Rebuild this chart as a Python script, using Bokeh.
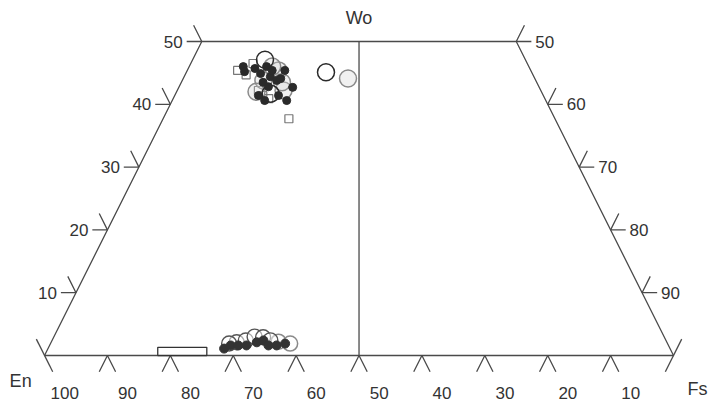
import numpy as np
from bokeh.plotting import figure
from bokeh.models import Range1d
from bokeh.embed import file_html
from bokeh.resources import INLINE
from bokeh.core.properties import value

# ---- data (Wo and Fs, mol %) ----
sq_wo = [45.4, 44.7, 46.5, 41.4, 40.9, 37.7, 42.2]
sq_fs = [8.0, 9.7, 9.9, 14.0, 15.2, 20.0, 12.9]

up_circ_wo = [47.1, 45.1, 41.7]
up_circ_fs = [11.5, 22.2, 15.1]
up_gcirc_wo = [45.4, 42.2, 44.1, 43.8, 42.0, 46.0, 43.5]
up_gcirc_fs = [14.5, 16.9, 26.2, 12.9, 12.7, 13.2, 16.0]

up_dot_wo = [46.0, 45.2, 45.7, 44.9, 46.0, 44.4, 43.5, 43.8, 42.8, 44.1, 45.4, 45.4, 41.4, 40.6, 40.6, 42.7, 41.4]
up_dot_fs = [8.6, 9.2, 10.6, 11.9, 12.3, 13.7, 13.0, 15.0, 14.2, 15.5, 13.5, 15.5, 16.5, 14.7, 18.2, 18.1, 13.3]

lo_circ_wo = [2.1, 2.4, 3.0, 2.9, 2.4, 1.9]
lo_circ_fs = [29.5, 30.8, 31.9, 33.3, 34.7, 28.4]
lo_gcirc_wo = [2.2, 1.9]
lo_gcirc_fs = [36.1, 38.1]

lo_dot_wo = [1.1, 1.6, 1.6, 1.6, 2.1, 2.4, 1.6, 1.6, 1.9]
lo_dot_fs = [28.0, 28.8, 30.0, 31.3, 32.7, 33.6, 34.8, 36.1, 37.3]

box_fs = [18.0, 25.8]
box_wo = [0.0, 1.3]

bottom_ticks = [10, 20, 30, 40, 50, 60, 70, 80, 90]          # Fs position on base
bottom_labels = ["100", "90", "80", "70", "60", "50", "40", "30", "20", "10"]
bottom_label_pos = [0, 10, 20, 30, 40, 50, 60, 70, 80, 90]
side_ticks = [10, 20, 30, 40, 50]                            # Wo
left_labels = ["10", "20", "30", "40", "50"]
right_labels = ["90", "80", "70", "60", "50"]


def proj(wo, fs):
    wo = np.asarray(wo, dtype=float)
    fs = np.asarray(fs, dtype=float)
    return fs + wo / 2.0, wo


p = figure(width=709, height=410, x_range=Range1d(-7.0, 105.72), y_range=Range1d(-8.76, 56.53),
           output_backend="svg", toolbar_location=None, min_border=0,
           x_axis_type=None, y_axis_type=None)
p.grid.visible = False
p.outline_line_color = None
p.background_fill_color = "white"

LC = "#4a4a4a"
LW = 1.3

# outline
ox, oy = proj([0, 50, 50, 0, 0], [0, 0, 50, 100, 0])
p.line(ox, oy, line_color=LC, line_width=LW)
vx, vy = proj([0, 50], [50, 25])
p.line(vx, vy, line_color=LC, line_width=LW)

# ticks
L = 2.6
xs, ys = [], []
for t in bottom_ticks:
    xs.append([t - L / 2, t, t + L / 2]); ys.append([-L, 0, -L])
# corners
xs.append([-L / 2, L / 2]); ys.append([L, -L])
xs.append([100 - L / 2, 100 + L / 2]); ys.append([-L, L])
for w in side_ticks:
    xl, _ = proj([w], [0])
    xl = xl[0]
    xs.append([xl - 2.4, xl, xl - L / 2]); ys.append([w, w, w + L])
    xr, _ = proj([w], [100 - w])
    xr = xr[0]
    xs.append([xr + 2.4, xr, xr + L / 2]); ys.append([w, w, w + L])
p.multi_line(xs, ys, line_color=LC, line_width=LW)

# box
p.quad(left=[box_fs[0]], right=[box_fs[1]], bottom=[box_wo[0]], top=[box_wo[1]],
       fill_color="white", line_color="#333333", line_width=1.3)

# markers
x, y = proj(sq_wo, sq_fs)
p.scatter(x, y, marker="square", size=8, fill_color=None, line_color="#777777", line_width=1.2)

x, y = proj(up_gcirc_wo, up_gcirc_fs)
p.scatter(x, y, marker="circle", size=17, fill_color="#cfcfcf", fill_alpha=0.3, line_color="#8a8a8a", line_width=1.5)
x, y = proj(lo_gcirc_wo, lo_gcirc_fs)
p.scatter(x, y, marker="circle", size=15, fill_color="white", fill_alpha=0.6, line_color="#8a8a8a", line_width=1.5)

x, y = proj(up_circ_wo, up_circ_fs)
p.scatter(x, y, marker="circle", size=17, fill_color=None, line_color="#2a2a2a", line_width=1.5)
x, y = proj(lo_circ_wo, lo_circ_fs)
p.scatter(x, y, marker="circle", size=15, fill_color="white", fill_alpha=0.5, line_color="#555555", line_width=1.4)

x, y = proj(up_dot_wo, up_dot_fs)
p.scatter(x, y, marker="circle", size=8, fill_color="#2a2a2a", line_color="#2a2a2a")
x, y = proj(lo_dot_wo, lo_dot_fs)
p.scatter(x, y, marker="circle", size=9, fill_color="#333333", line_color="#333333")

# labels
FONT = value("Liberation Sans")
TC = "#333333"
p.text(x=[b + 3.2 for b in bottom_label_pos], y=[-6.0] * len(bottom_label_pos), text=bottom_labels,
       text_font=FONT, text_font_size="17px", text_color=TC, text_align="center", text_baseline="middle")
lx, ly = proj(side_ticks, [0] * len(side_ticks))
p.text(x=list(lx), y=list(ly), text=left_labels, x_offset=-19,
       text_font=FONT, text_font_size="17px", text_color=TC, text_align="right", text_baseline="middle")
rx, ry = proj(side_ticks, [100 - w for w in side_ticks])
p.text(x=list(rx), y=list(ry), text=right_labels, x_offset=19,
       text_font=FONT, text_font_size="17px", text_color=TC, text_align="left", text_baseline="middle")

p.text(x=[50], y=[53.8], text=["Wo"], text_font=FONT, text_font_size="18px", text_color=TC,
       text_align="center", text_baseline="middle")
p.text(x=[-3.8], y=[-4.0], text=["En"], text_font=FONT, text_font_size="18px", text_color=TC,
       text_align="center", text_baseline="middle")
p.text(x=[103.8], y=[-5.4], text=["Fs"], text_font=FONT, text_font_size="18px", text_color=TC,
       text_align="center", text_baseline="middle")

open("out.html", "w").write(file_html(p, INLINE))
